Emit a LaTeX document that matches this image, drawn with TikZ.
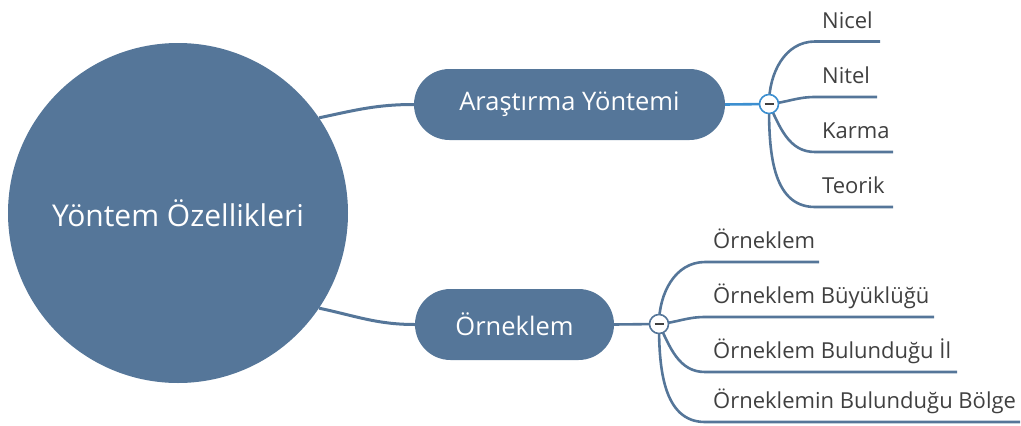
\documentclass[tikz,border=0pt]{standalone}
\usepackage{fontspec}
\setmainfont{Open Sans}
\usetikzlibrary{shapes.misc,backgrounds}
\definecolor{mc}{RGB}{85,118,153}
\definecolor{hl}{RGB}{60,143,208}
\definecolor{txt}{RGB}{64,64,64}
\begin{document}
\begin{tikzpicture}[x=1pt,y=-1pt,
  main/.style={fill=mc, text=white, inner sep=0pt},
  topic/.style={main, rounded rectangle, minimum height=71pt, font=\fontsize{25.5}{30}\selectfont},
  conn/.style={draw=mc, line width=3pt},
  br/.style={draw=mc, line width=2.6pt},
  leaf/.style={anchor=base west, font=\fontsize{22}{26}\selectfont, text=txt, inner sep=0pt},
  tog/.style={circle, draw=#1, fill=white, line width=1.6pt, minimum size=19pt, inner sep=0pt,
    path picture={\draw[txt, line width=1.3pt] ([xshift=-4.5pt]path picture bounding box.center) -- ([xshift=4.5pt]path picture bounding box.center);}},
]
\useasboundingbox (0,0) rectangle (1021,426);
\node[main, circle, minimum size=340pt, font=\fontsize{30}{36}\selectfont] (root) at (178,213) {Yöntem Özellikleri};
\node[topic, minimum width=311pt] (ar) at (569.5,104.5) {Araştırma Yöntemi};
\node[topic, minimum width=199pt] (or) at (514.5,324.5) {Örneklem};
\node[tog=hl] (c1) at (769,104) {};
\node[tog=mc] (c2) at (659,324) {};
% leaf coordinates
\coordinate (a1) at (815,41.5);  \coordinate (a1e) at (880,41.5);
\coordinate (a2) at (815,97);    \coordinate (a2e) at (877,97);
\coordinate (a3) at (815,152);   \coordinate (a3e) at (893,152);
\coordinate (a4) at (815,207);   \coordinate (a4e) at (893,207);
\coordinate (b1) at (705,262);   \coordinate (b1e) at (819,262);
\coordinate (b2) at (705,317);   \coordinate (b2e) at (934,317);
\coordinate (b3) at (705,372);   \coordinate (b3e) at (957,372);
\coordinate (b4) at (705,422);   \coordinate (b4e) at (1020,422);
\node[leaf] (ta1) at (822,28) {Nicel};
\node[leaf] (ta2) at (822,83.5) {Nitel};
\node[leaf] (ta3) at (822,138.5) {Karma};
\node[leaf] (ta4) at (822,193.5) {Teorik};
\node[leaf] (tb1) at (713,248) {Örneklem};
\node[leaf] (tb2) at (713,303) {Örneklem Büyüklüğü};
\node[leaf] (tb3) at (713,358) {Örneklem Bulunduğu İl};
\node[leaf] (tb4) at (713,408.5) {Örneklemin Bulunduğu Bölge};
\begin{scope}[on background layer]
  \draw[conn] (root.34) to[out=12,in=180] (ar.west);
  \draw[conn] (root.-34) to[out=-12,in=180] (or.west);
  \draw[draw=hl, line width=2.6pt] (ar.east) -- (c1.center);
  \draw[conn, line width=2.6pt] (or.east) -- (c2.center);
  \draw[br] (c1.center) to[out=90,in=180] (a1) -- (a1e);
  \draw[br] (c1.center) to[out=5,in=180] (a2) -- (a2e);
  \draw[br] (c1.center) to[out=-65,in=180] (a3) -- (a3e);
  \draw[br] (c1.center) to[out=-90,in=180] (a4) -- (a4e);
  \draw[br] (c2.center) to[out=90,in=180] (b1) -- (b1e);
  \draw[br] (c2.center) to[out=5,in=180] (b2) -- (b2e);
  \draw[br] (c2.center) to[out=-65,in=180] (b3) -- (b3e);
  \draw[br] (c2.center) to[out=-90,in=180] (b4) -- (b4e);
\end{scope}
\end{tikzpicture}
\end{document}
